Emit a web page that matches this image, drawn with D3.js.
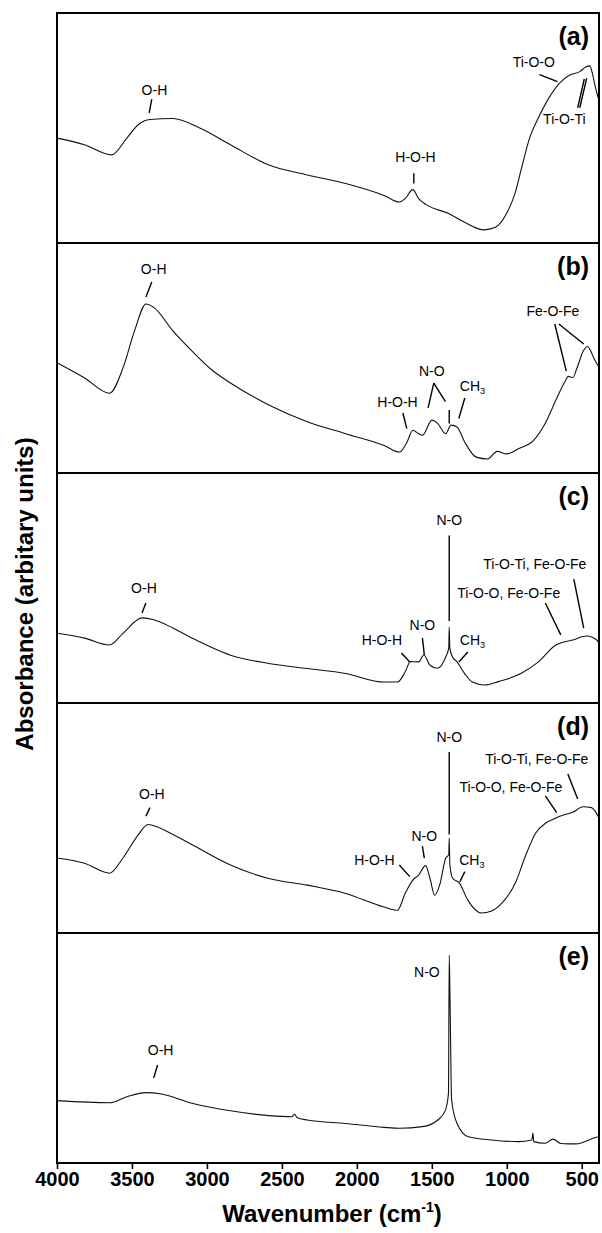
<!DOCTYPE html>
<html>
<head>
<meta charset="utf-8">
<script src="https://cdn.jsdelivr.net/npm/d3@7"></script>
<style>
  body { margin: 0; background: #fff; }
  svg { display: block; font-family: "Liberation Sans", Arial, Helvetica, sans-serif; }
</style>
</head>
<body>
<div id="chart"></div>
<script>
// x ticks (cm-1) and panel names
const wavenumberTicks = [4000, 3500, 3000, 2500, 2000, 1500, 1000, 500];
const panelNames = ["(a)", "(b)", "(c)", "(d)", "(e)"];

// spectra: [wavenumber, absorbance (arbitrary, 0-100 of panel)]
const spectrumA = [
  [4000, 45.6], [3816, 42.7], [3636, 38.3], [3534, 45.6], [3457, 51.5], [3380, 53.7],
  [3227, 54.1], [3048, 50], [2843, 42.7], [2587, 33.9], [2331, 29.6], [2075, 25.9],
  [1819, 20.7], [1716, 17.8], [1678, 19.3], [1627, 23.2], [1588, 19.3], [1537, 16.7],
  [1384, 12.7], [1281, 9], [1153, 5.7], [1076, 6.8], [1000, 13], [943, 22], [900, 33],
  [846, 46], [785, 55], [720, 63], [649, 69.4], [581, 73], [513, 74.5], [474, 76.5],
  [447, 77], [430, 74], [410, 68], [385, 62]
];
const spectrumB = [
  [4000, 47.9], [3816, 41.3], [3649, 34.7], [3560, 45.7], [3483, 61.8], [3406, 73.5],
  [3355, 72], [3227, 61.8], [3099, 53], [2971, 45], [2843, 39.1], [2587, 29.6],
  [2331, 22.3], [2075, 17.1], [1819, 12], [1716, 9.1], [1665, 13.5], [1627, 18.6],
  [1588, 17.1], [1563, 16.4], [1499, 23], [1460, 21.5], [1409, 17.1], [1371, 20.8],
  [1332, 20], [1281, 13.5], [1204, 6.9], [1128, 6.1], [1064, 9.4], [1000, 8.3],
  [923, 10.5], [821, 14.2], [744, 21.5], [667, 32.5], [610, 40], [590, 42], [560, 41.5],
  [530, 46], [490, 53], [462, 55], [440, 53], [420, 50], [385, 46]
];
const spectrumC = [
  [4000, 30.3], [3816, 28.2], [3649, 25.2], [3560, 30.3], [3432, 37], [3355, 36.2],
  [3227, 32.6], [3099, 28.2], [2843, 20.8], [2587, 17.2], [2331, 15], [2075, 12.8],
  [1819, 9.1], [1729, 9.1], [1678, 13.5], [1643, 18], [1588, 17.9], [1553, 20.9],
  [1512, 16.4], [1463, 15.1], [1407, 20.1], [1387, 24], [1384, 33], [1380, 24],
  [1363, 20.1], [1332, 17.9], [1281, 12.8], [1230, 9.1], [1147, 7.8], [1056, 9.3],
  [900, 13], [787, 18], [673, 25.2], [560, 27.4], [468, 29.1], [400, 27.4], [385, 26]
];
const spectrumD = [
  [4000, 32.6], [3816, 30.3], [3649, 26], [3560, 32.6], [3457, 42.8], [3393, 47.2],
  [3227, 42.8], [3099, 38.4], [2843, 29.6], [2587, 23.7], [2331, 20.8], [2075, 17.2],
  [1819, 11.3], [1729, 9.9], [1678, 17.2], [1627, 23], [1588, 25.2], [1542, 29.3],
  [1512, 23.7], [1481, 16.4], [1448, 20.8], [1407, 32.6], [1387, 34], [1384, 41.3],
  [1380, 30], [1362, 23.9], [1316, 21.7], [1260, 14.3], [1169, 8.7], [1101, 9.6],
  [1033, 13], [943, 21.7], [875, 33.6], [807, 43.5], [740, 47.8], [673, 50],
  [617, 51.4], [560, 52.5], [491, 54.9], [435, 54.5], [385, 50]
];
const spectrumE = [
  [4000, 27.1], [3649, 26.2], [3534, 28.8], [3406, 30.6], [3304, 30], [3099, 26],
  [2843, 22.7], [2587, 20.6], [2433, 20.1], [2415, 21.3], [2400, 19.8], [2331, 18.7],
  [2075, 17.2], [1819, 15.5], [1716, 15.1], [1563, 15.8], [1460, 18.7], [1409, 23],
  [1389, 30.3], [1384, 90.4], [1378, 68], [1368, 27.4], [1332, 17.2], [1256, 11.4],
  [1102, 10], [923, 9.3], [833, 10], [826, 13], [820, 9.3], [744, 8.6], [692, 10.4],
  [640, 8.5], [590, 8.3], [539, 8.3], [403, 11.2], [385, 11.5]
];
const spectra = [spectrumA, spectrumB, spectrumC, spectrumD, spectrumE];

// band labels: text at [wavenumber, value], pointer segments in the same units
const bandsA = [
  { text: "O-H", at: [3350, 64.2], lines: [[[3368, 62.5], [3385, 56.6]]] },
  { text: "H-O-H", at: [1609, 35.4], lines: [[[1620, 30.3], [1620, 25.9]]] },
  { text: "Ti-O-O", at: [820, 76.4], lines: [[[782, 73.2], [662, 70.2]]] },
  { text: "Ti-O-Ti", at: [616, 51.8], lines: [[[527, 58.8], [483, 71.3]], [[513, 58.8], [467, 71.7]]] }
];
const bandsB = [
  { text: "O-H", at: [3355, 86.7], lines: [[[3368, 83], [3407, 76.5]]] },
  { text: "Fe-O-Fe", at: [693, 68.3], lines: [[[680, 64.8], [603, 44.3]], [[653, 64.8], [487, 56.1]]] },
  { text: "N-O", at: [1500, 42.2], lines: [[[1487, 39.1], [1525, 28.3]], [[1487, 39.1], [1409, 31]], [[1384, 27.4], [1384, 21.5]]] },
  { text: "H-O-H", at: [1729, 28.7], lines: [[[1693, 26.1], [1667, 19.3]]] },
  { text: "CH3", at: [1229, 35.7], lines: [[[1280, 32.6], [1320, 23.7]]] }
];
const bandsC = [
  { text: "N-O", at: [1384, 77.2], lines: [[[1384, 72.8], [1384, 35.7]]] },
  { text: "Ti-O-Ti, Fe-O-Fe", at: [813, 58.3], lines: [[[553, 53.9], [487, 32.6]]] },
  { text: "Ti-O-O, Fe-O-Fe", at: [987, 45.7], lines: [[[743, 43.5], [640, 29.6]]] },
  { text: "O-H", at: [3420, 47.8], lines: [[[3407, 43.5], [3433, 39.1]]] },
  { text: "N-O", at: [1563, 31.7], lines: [[[1563, 28.3], [1550, 20.9]]] },
  { text: "H-O-H", at: [1833, 25.2], lines: [[[1703, 21.7], [1647, 17.8]]] },
  { text: "CH3", at: [1229, 25.2], lines: [[[1260, 22.2], [1320, 17.8]]] }
];
const bandsD = [
  { text: "N-O", at: [1384, 83], lines: [[[1384, 78.7], [1384, 42.8]]] },
  { text: "Ti-O-Ti, Fe-O-Fe", at: [800, 73.5], lines: [[[593, 69.1], [527, 58.3]]] },
  { text: "Ti-O-O, Fe-O-Fe", at: [973, 61.3], lines: [[[743, 59.6], [667, 52.3]]] },
  { text: "O-H", at: [3367, 58.3], lines: [[[3380, 54.5], [3407, 50.8]]] },
  { text: "N-O", at: [1550, 40], lines: [[[1563, 37.8], [1550, 32.6]]] },
  { text: "H-O-H", at: [1883, 29.6], lines: [[[1717, 29.6], [1647, 24.5]]] },
  { text: "CH3", at: [1233, 29.6], lines: [[[1280, 26.7], [1313, 22.3]]] }
];
const bandsE = [
  { text: "N-O", at: [1533, 80.9], lines: [] },
  { text: "O-H", at: [3309, 47], lines: [[[3329, 42.6], [3355, 37]]] }
];
const bands = [bandsA, bandsB, bandsC, bandsD, bandsE];

function drawSpectra() {
  const dims = { width: 602, height: 1233, left: 57, right: 599, top: 13, panelHeight: 230 };
  const bottom = dims.top + dims.panelHeight * spectra.length;

  const svg = d3.select("#chart").append("svg")
    .attr("width", dims.width)
    .attr("height", dims.height);

  const x = d3.scaleLinear().domain([4000, 385]).range([dims.left, dims.right]);

  spectra.forEach((spectrum, i) => {
    const y0 = dims.top + i * dims.panelHeight;
    const y = d3.scaleLinear().domain([0, 100]).range([y0 + dims.panelHeight, y0]);
    const panel = svg.append("g");

    const line = d3.line()
      .x(d => x(d[0]))
      .y(d => y(d[1]))
      .curve(d3.curveMonotoneX);

    panel.append("path")
      .datum(spectrum)
      .attr("d", line)
      .attr("fill", "none")
      .attr("stroke", "#111")
      .attr("stroke-width", 1.1);

    // band labels and pointers
    bands[i].forEach(b => {
      b.lines.forEach(seg => {
        panel.append("line")
          .attr("x1", x(seg[0][0])).attr("y1", y(seg[0][1]))
          .attr("x2", x(seg[1][0])).attr("y2", y(seg[1][1]))
          .attr("stroke", "#000")
          .attr("stroke-width", 1.4);
      });
      const t = panel.append("text")
        .attr("x", x(b.at[0]))
        .attr("y", y(b.at[1]))
        .attr("text-anchor", "middle")
        .attr("font-size", 14)
        .attr("fill", "#000");
      if (b.text === "CH3") {
        t.text("CH");
        t.append("tspan").attr("font-size", 9).attr("dy", 3).text("3");
      } else {
        t.text(b.text);
      }
    });

    panel.append("rect")
      .attr("x", dims.left)
      .attr("y", y0)
      .attr("width", dims.right - dims.left)
      .attr("height", dims.panelHeight)
      .attr("fill", "none")
      .attr("stroke", "#000")
      .attr("stroke-width", 2);

    panel.append("text")
      .attr("x", dims.right - 10)
      .attr("y", y0 + 32)
      .attr("text-anchor", "end")
      .attr("font-size", 25)
      .attr("font-weight", "bold")
      .text(panelNames[i]);
  });

  // x axis
  const axis = svg.append("g")
    .attr("transform", `translate(0,${bottom})`)
    .call(d3.axisBottom(x)
      .tickValues(wavenumberTicks)
      .tickFormat(d3.format("d"))
      .tickSize(6)
      .tickPadding(3));
  axis.select(".domain").remove();
  axis.selectAll(".tick line").attr("stroke", "#000").attr("stroke-width", 1.6);
  axis.selectAll(".tick text")
    .attr("font-size", 20)
    .attr("font-weight", "bold")
    .attr("font-family", "Liberation Sans, Arial, sans-serif")
    .attr("fill", "#000");

  const xTitle = svg.append("text")
    .attr("x", (dims.left + dims.right) / 2 + 4)
    .attr("y", 1222)
    .attr("text-anchor", "middle")
    .attr("font-size", 24)
    .attr("font-weight", "bold")
    .text("Wavenumber (cm");
  xTitle.append("tspan").attr("font-size", 14).attr("dy", -10).text("-1");
  xTitle.append("tspan").attr("dy", 10).text(")");

  svg.append("text")
    .attr("transform", `translate(33,${(dims.top + bottom) / 2 + 6}) rotate(-90)`)
    .attr("text-anchor", "middle")
    .attr("font-size", 24)
    .attr("font-weight", "bold")
    .text("Absorbance (arbitary units)");
}

drawSpectra();
</script>
</body>
</html>
